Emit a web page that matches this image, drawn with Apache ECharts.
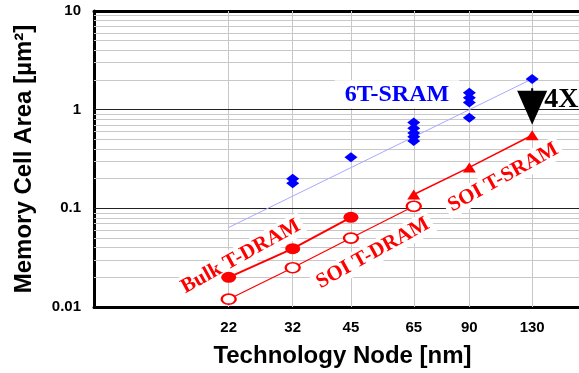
<!DOCTYPE html>
<html>
<head>
<meta charset="utf-8">
<script src="https://cdn.jsdelivr.net/npm/echarts@6/dist/echarts.min.js"></script>
<style>
  html, body { margin: 0; padding: 0; background: #fff; }
  #chart { width: 579px; height: 373px; }
</style>
</head>
<body>
<div id="chart"></div>
<script>
// Technology nodes labelled on the x axis (nm)
const nodeTicks = [22, 32, 45, 65, 90, 130];

// 6T-SRAM reported cell areas (µm²)
const sramNodes = [32, 32, 45, 65, 65, 65, 65, 65, 90, 90, 90, 90, 130];
const sramAreas = [0.2, 0.18, 0.33, 0.74, 0.65, 0.58, 0.53, 0.48, 1.48, 1.32, 1.18, 0.83, 2.05];

// 6T-SRAM scaling trend
const sramTrendNodes = [22, 130];
const sramTrendAreas = [0.064, 2.05];

// SOI T-SRAM
const soiSramNodes = [65, 90, 130];
const soiSramAreas = [0.138, 0.26, 0.55];

// Bulk T-DRAM
const bulkDramNodes = [22, 32, 45];
const bulkDramAreas = [0.02, 0.039, 0.081];

// SOI T-DRAM
const soiDramNodes = [22, 32, 45, 65];
const soiDramAreas = [0.012, 0.025, 0.05, 0.105];

// 4X arrow at 130 nm: shaft start, arrow head centre
const gapNodes = [130, 130];
const gapAreas = [1.65, 1.048];
const gapText = '4X';

const SANS = '"Liberation Sans", Arial, sans-serif';
const SERIF = '"Liberation Serif", "Times New Roman", serif';

const zip = (xs, ys) => xs.map((x, i) => [x, ys[i]]);

// Minor decade lines 2..9 for each decade, major lines at 0.1 and 1
const minorLines = [];
[0.01, 0.1, 1].forEach(d => {
  for (let k = 2; k <= 9; k++) minorLines.push(+(d * k).toPrecision(3));
});
const majorLines = [0.1, 1];

const gridLineData = []
  .concat(minorLines.map(v => ({
    yAxis: v, lineStyle: { color: '#c8c8c8', width: 1, type: 'solid' }, label: { show: false }
  })))
  .concat(nodeTicks.map(n => ({
    xAxis: n,
    lineStyle: { color: '#c8c8c8', width: 1, type: 'solid' },
    label: {
      show: true, position: 'start', formatter: String(n), distance: 13,
      color: '#000', fontFamily: SANS, fontWeight: 'bold', fontSize: 15
    }
  })))
  .concat(majorLines.map(v => ({
    yAxis: v, lineStyle: { color: '#222', width: 1, type: 'solid' }, label: { show: false }
  })));

function note(node, area, text, color, size, rotate, pad) {
  return {
    value: [node, area],
    label: {
      show: true, position: 'inside', formatter: text, rotate: rotate, opacity: 1,
      color: color, fontFamily: SERIF, fontWeight: 'bold', fontSize: size,
      textBorderWidth: 0, textBorderColor: 'transparent',
      textShadowBlur: 0, textShadowColor: 'transparent',
      backgroundColor: '#fff', padding: pad
    }
  };
}

const frame = { show: true, onZero: false, lineStyle: { color: '#000', width: 3 } };

const chart = echarts.init(document.getElementById('chart'));
chart.setOption({
  animation: false,
  backgroundColor: '#fff',
  grid: { left: 94, top: 11, bottom: 65, right: 0 },
  xAxis: [{
    type: 'log', logBase: 10, min: 10, max: 171,
    axisLine: frame, axisTick: { show: false },
    axisLabel: { show: false }, splitLine: { show: false },
    name: 'Technology Node [nm]', nameLocation: 'middle', nameGap: 37,
    nameTextStyle: { color: '#000', fontFamily: SANS, fontWeight: 'bold', fontSize: 24, padding: [0, 0, 0, 12] }
  }, {
    // heavy frame line along the top of the plot
    type: 'log', logBase: 10, min: 10, max: 171, position: 'top',
    axisLine: frame, axisTick: { show: false },
    axisLabel: { show: false }, splitLine: { show: false }
  }],
  yAxis: {
    type: 'log', logBase: 10, min: 0.01, max: 10,
    axisLine: frame, axisTick: { show: false }, splitLine: { show: false },
    axisLabel: { color: '#000', fontFamily: SANS, fontWeight: 'bold', fontSize: 15, margin: 13 },
    name: 'Memory Cell Area [µm²]', nameLocation: 'middle', nameGap: 58,
    nameTextStyle: { color: '#000', fontFamily: SANS, fontWeight: 'bold', fontSize: 24 }
  },
  series: [
    {
      name: 'grid', type: 'line', data: [], z: 1,
      markLine: { silent: true, symbol: 'none', animation: false, z: 1, data: gridLineData }
    },
    {
      name: 'notes', type: 'scatter', z: 2, symbolSize: 0, silent: true,
      itemStyle: { opacity: 1, color: '#fff' },
      data: [
        note(58.9, 1.43, '6T-SRAM', '#0000ff', 24, 0, [2, 10]),
        note(23.6, 0.0325, 'Bulk T-DRAM', '#ff0000', 21, 29, [1, 4]),
        note(51.2, 0.0351, 'SOI T-DRAM', '#ff0000', 21, 29, [1, 4]),
        note(109.7, 0.2056, 'SOI T-SRAM', '#ff0000', 21, 29, [1, 4])
      ]
    },
    {
      name: '6T-SRAM trend', type: 'line', z: 3, symbol: 'none',
      data: zip(sramTrendNodes, sramTrendAreas),
      lineStyle: { color: '#a8a8ff', width: 1 }
    },
    {
      name: '6T-SRAM', type: 'scatter', z: 4, symbol: 'diamond', symbolSize: [13, 10],
      data: zip(sramNodes, sramAreas),
      itemStyle: { color: '#0000ff', opacity: 1 }
    },
    {
      name: 'SOI T-SRAM', type: 'line', z: 4, symbol: 'triangle', symbolSize: [13, 10],
      showAllSymbol: true,
      data: zip(soiSramNodes, soiSramAreas),
      lineStyle: { color: '#ff0000', width: 1.5 },
      itemStyle: { color: '#ff0000' }
    },
    {
      name: 'Bulk T-DRAM', type: 'line', z: 4, symbol: 'circle', symbolSize: [15, 11],
      data: zip(bulkDramNodes, bulkDramAreas),
      lineStyle: { color: '#ff0000', width: 2 },
      itemStyle: { color: '#ff0000' }
    },
    {
      name: 'SOI T-DRAM', type: 'line', z: 4, symbol: 'emptyCircle', symbolSize: [14, 10],
      data: zip(soiDramNodes, soiDramAreas),
      lineStyle: { color: '#ff0000', width: 1.2 },
      itemStyle: { color: '#ff0000', borderWidth: 1.3 }
    },
    {
      name: 'gap shaft', type: 'line', z: 5, symbol: 'none',
      data: zip(gapNodes, gapAreas),
      lineStyle: { color: '#000', width: 2 }
    },
    {
      name: 'gap head', type: 'scatter', z: 5, symbol: 'triangle', symbolRotate: 180,
      symbolSize: [30, 34],
      data: [[gapNodes[1], gapAreas[1]]],
      itemStyle: { color: '#000', opacity: 1 },
      label: {
        show: true, position: 'right', distance: -3, offset: [0, -8], opacity: 1,
        formatter: gapText, color: '#000', fontFamily: SERIF, fontWeight: 'bold', fontSize: 28
      }
    }
  ]
});
</script>
</body>
</html>
